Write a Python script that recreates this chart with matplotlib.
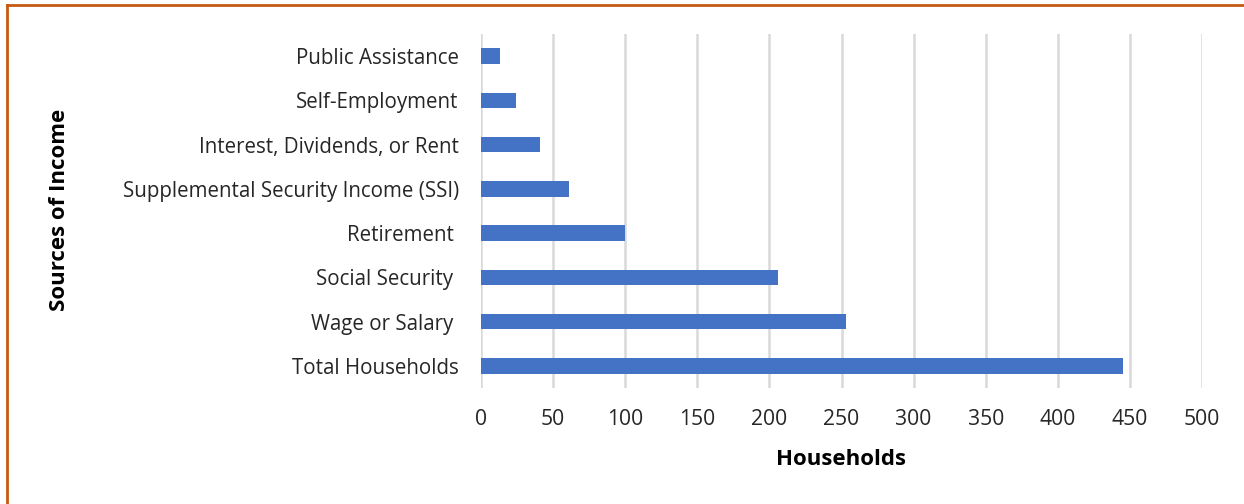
import matplotlib
matplotlib.use("Agg")
import matplotlib.pyplot as plt
from matplotlib.lines import Line2D

categories = ["Total Households", "Wage or Salary ", "Social Security ", "Retirement ",
              "Supplemental Security Income (SSI)", "Interest, Dividends, or Rent",
              "Self-Employment", "Public Assistance"]
values = [445, 253, 206, 100, 61, 41, 24, 13]
xticks = [0, 50, 100, 150, 200, 250, 300, 350, 400, 450, 500]

plt.rcParams['font.family'] = ['Open Sans', 'DejaVu Sans']

fig = plt.figure(figsize=(12.44, 5.04), dpi=100)
ax = fig.add_axes([481/1244, 1-388/504, (1202-481)/1244, (388-34)/504])

ypos = list(range(len(categories)))
ax.barh(ypos, values, height=0.35, color="#4472C4", zorder=3)
ax.set_ylim(-0.5, len(categories)-0.5)
ax.set_xlim(0, 500)
ax.set_xticks(xticks)
ax.set_yticks(ypos)
ax.set_yticklabels(categories, fontsize=14.8, color="#262626")
ax.tick_params(axis='x', labelsize=15.2, colors="#262626", length=0, pad=15)
ax.tick_params(axis='y', length=0, pad=16)
ax.grid(axis='x', color="#D9D9D9", linewidth=1.8, zorder=0)
for s in ax.spines.values():
    s.set_visible(False)

ax.set_xlabel("Households", fontsize=16, fontweight='bold', labelpad=14)
fig.text(60/1244, 1-210/504, "Sources of Income", rotation=90, fontsize=16,
         fontweight='bold', ha='center', va='center')

# outer border (top and left)
fig.add_artist(Line2D([7/1244, 7/1244], [0, 1-5/504], color="#C55A11", linewidth=2,
                      transform=fig.transFigure))
fig.add_artist(Line2D([7/1244, 1], [1-5/504, 1-5/504], color="#C55A11", linewidth=2,
                      transform=fig.transFigure))

fig.savefig("out.png", dpi=100)
